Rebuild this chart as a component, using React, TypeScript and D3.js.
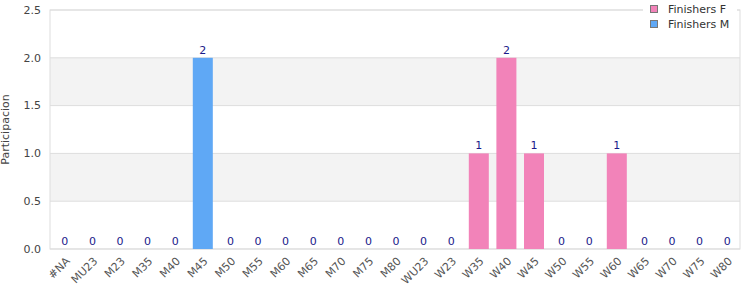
import React from "react";
import * as d3 from "d3";

const categories = ["#NA","MU23","M23","M35","M40","M45","M50","M55","M60","M65","M70","M75","M80","WU23","W23","W35","W40","W45","W50","W55","W60","W65","W70","W75","W80"];
const finishersF = [0,0,0,0,0,0,0,0,0,0,0,0,0,0,0,1,2,1,0,0,1,0,0,0,0];
const finishersM = [0,0,0,0,0,2,0,0,0,0,0,0,0,0,0,0,0,0,0,0,0,0,0,0,0];
const yTicks = [0, 0.5, 1, 1.5, 2, 2.5];
const seriesNames = ["Finishers F", "Finishers M"];
const colorF = "#f283b9";
const colorM = "#5fa8f5";

export default function App() {
  const W = 750, H = 300;
  const left = 50, right = 740, top = 10, bottom = 249;
  const x = d3.scaleBand().domain(categories).range([left + 1, right + 1]).paddingInner(0.275).paddingOuter(0.1375);
  const y = d3.scaleLinear().domain([0, 2.5]).range([bottom, top]);
  const font = "DejaVu Sans, sans-serif";
  const bands = [];
  for (let i = 0; i < yTicks.length - 1; i++) {
    if (i % 2 === 1) bands.push([yTicks[i], yTicks[i + 1]]);
  }
  return (
    <svg width={W} height={H} style={{ position: "absolute", left: 0, top: 0, fontFamily: font }}>
      <rect x={0} y={0} width={W} height={H} fill="#fff" />
      {bands.map(([a, b], i) => (
        <rect key={i} x={left} y={y(b)} width={right - left} height={y(a) - y(b)} fill="#f3f3f3" />
      ))}
      {yTicks.map((t) => (
        <line key={t} x1={left} x2={right} y1={y(t)} y2={y(t)} stroke="#dddddd" strokeWidth={1} />
      ))}
      <rect x={left} y={top} width={right - left} height={bottom - top} fill="none" stroke="#dddddd" strokeWidth={1} />
      {yTicks.map((t) => (
        <text key={t} x={left - 9} y={y(t)} dy="0.35em" textAnchor="end" fontSize={11} fill="#444">
          {t.toFixed(1)}
        </text>
      ))}
      <text transform={`translate(9,${(top + bottom) / 2}) rotate(-90)`} textAnchor="middle" fontSize={11} fill="#444">
        Participacion
      </text>
      {categories.map((c, i) => {
        const cx = x(c)! + x.bandwidth() / 2;
        const f = finishersF[i], m = finishersM[i];
        const total = f + m;
        return (
          <g key={c}>
            {f > 0 && <rect x={x(c)} y={y(f)} width={x.bandwidth()} height={y(0) - y(f)} fill={colorF} />}
            {m > 0 && <rect x={x(c)} y={y(f + m)} width={x.bandwidth()} height={y(f) - y(f + m)} fill={colorM} />}
            <text x={cx} y={y(total) - 4} textAnchor="middle" fontSize={11} fill="#1a1a8a">
              {total}
            </text>
            <text transform={`translate(${cx + 3},${bottom + 10}) rotate(-45)`} textAnchor="end" dy="0.35em" fontSize={11} fill="#555">
              {c}
            </text>
          </g>
        );
      })}
      <rect x={643} y={0} width={94} height={32} fill="#fff" />
      {seriesNames.map((s, i) => (
        <g key={s}>
          <rect x={650.5} y={5.5 + i * 15} width={7} height={7} fill={i === 0 ? colorF : colorM} stroke="#777" strokeWidth={1} />
          <text x={668} y={9 + i * 15} dy="0.35em" fontSize={11} fill="#333">{s}</text>
        </g>
      ))}
    </svg>
  );
}
